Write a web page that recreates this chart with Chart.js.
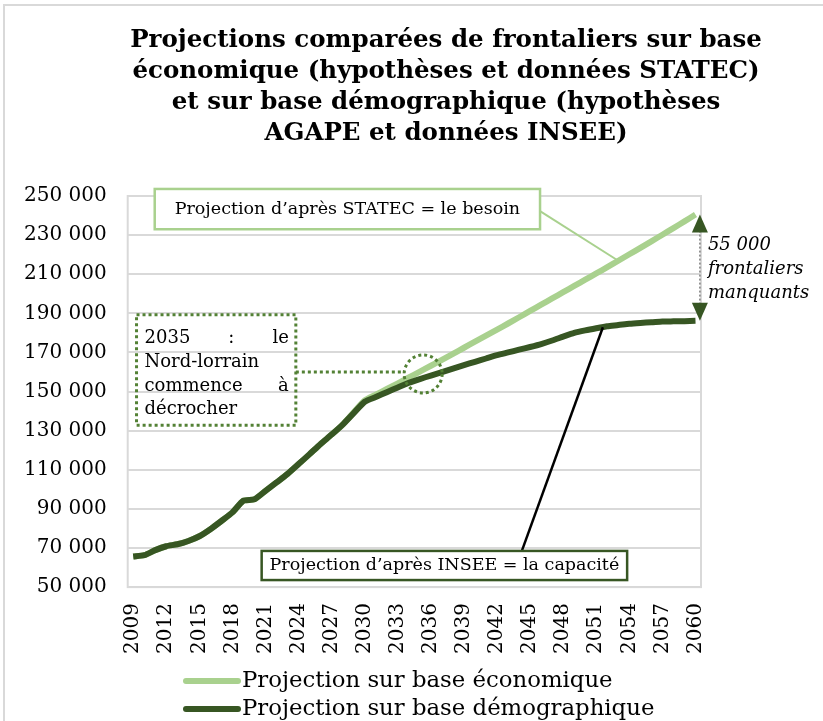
<!DOCTYPE html>
<html>
<head>
<meta charset="utf-8">
<script src="https://cdn.jsdelivr.net/npm/chart.js@4/dist/chart.umd.min.js"></script>
<style>
    html, body { margin: 0; padding: 0; background: #fff; }
    #wrap { width: 823px; height: 721px; position: relative; }
</style>
</head>
<body>
<div id="wrap"><canvas id="frontaliersChart" width="823" height="721"></canvas></div>
<script>
// Years on the x axis
const years = [
    2009, 2010, 2011, 2012, 2013, 2014, 2015, 2016, 2017, 2018,
    2019, 2020, 2021, 2022, 2023, 2024, 2025, 2026, 2027, 2028,
    2029, 2030, 2031, 2032, 2033, 2034, 2035, 2036, 2037, 2038,
    2039, 2040, 2041, 2042, 2043, 2044, 2045, 2046, 2047, 2048,
    2049, 2050, 2051, 2052, 2053, 2054, 2055, 2056, 2057, 2058,
    2059, 2060
];

// Projection sur base économique (STATEC)
const baseEconomique = [
    65600, 66300, 68900, 70900, 71900, 73600, 76000, 79600, 83800, 88200,
    94200, 94900, 99200, 103500, 107900, 112900, 118000, 123200, 128000, 133100,
    139400, 145500, 148400, 151300, 154200, 157200, 160200, 163200, 166200, 169300,
    172400, 175500, 178600, 181700, 184800, 188000, 191200, 194400, 197600, 200800,
    204000, 207200, 210400, 213600, 216900, 220200, 223500, 226800, 230200, 233600,
    237000, 240500
];

// Projection sur base démographique (AGAPE / INSEE)
const baseDemographique = [
    65600, 66300, 68900, 70900, 71900, 73600, 76000, 79600, 83800, 88200,
    94200, 94900, 99200, 103500, 107900, 112900, 118000, 123200, 128000, 133100,
    139000, 144800, 147200, 149700, 152100, 154500, 156400, 158200, 159900, 161700,
    163500, 165200, 166900, 168600, 170000, 171400, 172800, 174300, 176100, 178100,
    180000, 181300, 182400, 183400, 184000, 184700, 185100, 185400, 185800, 185900,
    186000, 186200
];

const seriesLabels = ['Projection sur base économique', 'Projection sur base démographique'];

const titleLines = [
    'Projections comparées de frontaliers sur base',
    'économique (hypothèses et données STATEC)',
    'et sur base démographique (hypothèses',
    'AGAPE et données INSEE)'
];

const LIGHT = '#a9d18e';
const DARK = '#375623';
const DOTTED = '#538135';
const GRID = '#d9d9d9';
const SERIF = '"DejaVu Serif", serif';

function formatThousands(v) {
    return String(v).replace(/\B(?=(\d{3})+(?!\d))/g, ' ');
}

// helpers: year / value -> pixel
function px(chart, year) { return chart.scales.x.getPixelForValue(year - years[0]); }
function py(chart, v) { return chart.scales.y.getPixelForValue(v); }

const frameAndTitle = {
    id: 'frameAndTitle',
    beforeDraw(chart) {
        const ctx = chart.ctx;
        ctx.save();
        // outer frame (only top and left edges visible)
        ctx.strokeStyle = GRID;
        ctx.lineWidth = 2;
        ctx.beginPath();
        ctx.moveTo(4, 730);
        ctx.lineTo(4, 5);
        ctx.lineTo(830, 5);
        ctx.stroke();

        // title
        ctx.fillStyle = '#000';
        ctx.font = 'bold 24.5px ' + SERIF;
        ctx.textAlign = 'center';
        ctx.textBaseline = 'middle';
        titleLines.forEach((line, i) => {
            ctx.fillText(line, 446, 41 + i * 31);
        });
        ctx.restore();
    },
    beforeDatasetsDraw(chart) {
        const a = chart.chartArea;
        const ctx = chart.ctx;
        ctx.save();
        ctx.strokeStyle = GRID;
        ctx.lineWidth = 2;
        ctx.strokeRect(a.left, a.top, a.right - a.left, a.bottom - a.top);
        ctx.restore();
    }
};

const annotations = {
    id: 'annotations',
    afterDatasetsDraw(chart) {
        const ctx = chart.ctx;
        ctx.save();

        // --- STATEC callout box
        let x1 = px(chart, 2010.95), x2 = px(chart, 2045.9);
        let y1 = py(chart, 253600), y2 = py(chart, 233000);
        let end = [px(chart, 2053), py(chart, baseEconomique[years.indexOf(2053)])];
        ctx.strokeStyle = LIGHT;
        ctx.lineWidth = 2;
        ctx.beginPath();
        ctx.moveTo(x2, (y1 + y2) / 2 + 2);
        ctx.lineTo(end[0], end[1]);
        ctx.stroke();
        ctx.fillStyle = '#fff';
        ctx.fillRect(x1, y1, x2 - x1, y2 - y1);
        ctx.lineWidth = 2.5;
        ctx.strokeRect(x1, y1, x2 - x1, y2 - y1);
        ctx.fillStyle = '#000';
        ctx.font = '17.5px ' + SERIF;
        ctx.textAlign = 'center';
        ctx.textBaseline = 'middle';
        ctx.fillText('Projection d’après STATEC = le besoin', (x1 + x2) / 2, (y1 + y2) / 2);

        // --- INSEE callout box
        x1 = px(chart, 2020.65); x2 = px(chart, 2053.8);
        y1 = py(chart, 68500); y2 = py(chart, 53600);
        end = [px(chart, 2051.6), py(chart, 182900)];
        ctx.strokeStyle = '#000';
        ctx.lineWidth = 2.5;
        ctx.beginPath();
        ctx.moveTo(px(chart, 2044.25), y1);
        ctx.lineTo(end[0], end[1]);
        ctx.stroke();
        ctx.fillStyle = '#fff';
        ctx.fillRect(x1, y1, x2 - x1, y2 - y1);
        ctx.strokeStyle = DARK;
        ctx.lineWidth = 2.5;
        ctx.strokeRect(x1, y1, x2 - x1, y2 - y1);
        ctx.fillStyle = '#000';
        ctx.fillText('Projection d’après INSEE = la capacité', (x1 + x2) / 2, (y1 + y2) / 2);

        // --- dotted box "2035 : le Nord-lorrain commence à décrocher"
        x1 = px(chart, 2009.3); x2 = px(chart, 2023.75);
        y1 = py(chart, 189300); y2 = py(chart, 132800);
        const cx = px(chart, 2035.3), cy = py(chart, 159000), r = 19;
        ctx.strokeStyle = DOTTED;
        ctx.lineWidth = 3;
        ctx.setLineDash([3, 3]);
        ctx.strokeRect(x1, y1, x2 - x1, y2 - y1);
        ctx.beginPath();
        ctx.moveTo(x2, py(chart, 160000));
        ctx.lineTo(cx - r, py(chart, 160000));
        ctx.stroke();
        ctx.beginPath();
        ctx.arc(cx, cy, r, 0, Math.PI * 2);
        ctx.stroke();
        ctx.setLineDash([]);

        const noteLines = [
            { words: ['2035', ':', 'le'], justify: true },
            { words: ['Nord-lorrain'], justify: false },
            { words: ['commence', 'à'], justify: true },
            { words: ['décrocher'], justify: false }
        ];
        ctx.fillStyle = '#000';
        ctx.font = '18px ' + SERIF;
        ctx.textAlign = 'left';
        const tl = x1 + 8, tr = x2 - 7;
        noteLines.forEach((ln, i) => {
            const y = y1 + 24 + i * 23.7;
            if (!ln.justify || ln.words.length < 2) {
                ctx.fillText(ln.words.join(' '), tl, y);
                return;
            }
            const widths = ln.words.map(w => ctx.measureText(w).width);
            const total = widths.reduce((s, w) => s + w, 0);
            const gap = (tr - tl - total) / (ln.words.length - 1);
            let x = tl;
            ln.words.forEach((w, j) => {
                ctx.fillText(w, x, y);
                x += widths[j] + gap;
            });
        });

        // --- double arrow: gap between the two projections in 2060
        const last = years.length - 1;
        const ax = px(chart, 2060.4);
        const top = py(chart, baseEconomique[last]);
        const bot = py(chart, baseDemographique[last]);
        ctx.strokeStyle = '#7f7f7f';
        ctx.lineWidth = 1.5;
        ctx.setLineDash([2, 2]);
        ctx.beginPath();
        ctx.moveTo(ax, top + 16);
        ctx.lineTo(ax, bot - 16);
        ctx.stroke();
        ctx.setLineDash([]);
        ctx.fillStyle = DARK;
        ctx.beginPath();
        ctx.moveTo(ax, top);
        ctx.lineTo(ax - 8, top + 18);
        ctx.lineTo(ax + 8, top + 18);
        ctx.closePath();
        ctx.fill();
        ctx.beginPath();
        ctx.moveTo(ax, bot);
        ctx.lineTo(ax - 8, bot - 18);
        ctx.lineTo(ax + 8, bot - 18);
        ctx.closePath();
        ctx.fill();

        ctx.fillStyle = '#000';
        ctx.font = 'italic 18px ' + SERIF;
        ctx.textAlign = 'left';
        ['55 000', 'frontaliers', 'manquants'].forEach((t, i) => {
            ctx.fillText(t, ax + 8, top + 31 + i * 24);
        });

        ctx.restore();
    }
};

// legend drawn by hand so that both rows start at the same x
const leftLegend = {
    id: 'leftLegend',
    afterDraw(chart) {
        const ctx = chart.ctx;
        ctx.save();
        ctx.font = '22.8px ' + SERIF;
        ctx.textBaseline = 'middle';
        ctx.textAlign = 'left';
        ctx.lineCap = 'round';
        chart.data.datasets.forEach((ds, i) => {
            const y = chart.height - 40 + i * 28;
            ctx.strokeStyle = ds.borderColor;
            ctx.lineWidth = 6;
            ctx.beginPath();
            ctx.moveTo(186, y);
            ctx.lineTo(238, y);
            ctx.stroke();
            ctx.fillStyle = '#000';
            ctx.fillText(ds.label, 242, y);
        });
        ctx.restore();
    }
};

const ctx = document.getElementById('frontaliersChart').getContext('2d');
new Chart(ctx, {
    type: 'line',
    data: {
        labels: years.map(String),
        datasets: [
            {
                label: seriesLabels[0],
                data: baseEconomique,
                borderColor: LIGHT,
                backgroundColor: LIGHT,
                borderWidth: 6,
                pointRadius: 0,
                tension: 0.2,
                order: 1
            },
            {
                label: seriesLabels[1],
                data: baseDemographique,
                borderColor: DARK,
                backgroundColor: DARK,
                borderWidth: 6,
                pointRadius: 0,
                tension: 0.2,
                order: 0
            }
        ]
    },
    options: {
        responsive: false,
        animation: false,
        layout: {
            padding: { top: 196, left: 3, right: 122, bottom: 51 }
        },
        plugins: {
            legend: { display: false },
            title: { display: false },
            tooltip: { enabled: false }
        },
        scales: {
            x: {
                offset: true,
                grid: { display: false, drawTicks: false },
                border: { display: false },
                ticks: {
                    autoSkip: false,
                    maxRotation: 90,
                    minRotation: 90,
                    padding: 16,
                    color: '#000',
                    font: { family: SERIF, size: 20 },
                    callback: function (value, index) {
                        return index % 3 === 0 ? this.getLabelForValue(value) : '';
                    }
                }
            },
            y: {
                min: 50000,
                max: 250000,
                grid: { color: GRID, lineWidth: 2, drawTicks: false },
                border: { display: false },
                ticks: {
                    stepSize: 20000,
                    padding: 21,
                    color: '#000',
                    font: { family: SERIF, size: 20 },
                    callback: v => formatThousands(v)
                }
            }
        }
    },
    plugins: [frameAndTitle, annotations, leftLegend]
});
</script>
</body>
</html>
